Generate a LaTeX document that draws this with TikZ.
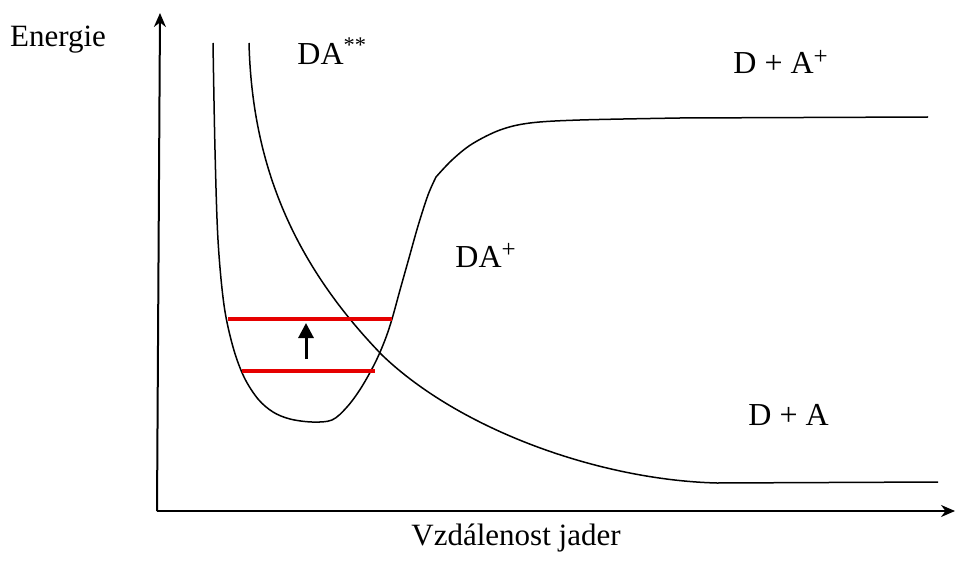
\documentclass[tikz,border=0pt]{standalone}
\usepackage{fontspec}
\setmainfont{Liberation Serif}
\usetikzlibrary{arrows.meta}
\definecolor{lvl}{RGB}{230,0,0}
\newcommand{\supplus}{\raisebox{0.62ex}{\fontsize{12.5}{12.5}\selectfont +}}
\tikzset{
  curve/.style={line width=0.75pt, line join=round},
  axis/.style={line width=1pt, -{Stealth[length=7pt,width=6pt]}},
  level/.style={line width=2pt, lvl},
  statelabel/.style={anchor=base west, inner sep=0pt, font=\fontsize{16}{18}\selectfont},
  axislabel/.style={anchor=base, inner sep=0pt, font=\fontsize{15.5}{18}\selectfont},
}
\begin{document}
\begin{tikzpicture}[x=0.5pt,y=-0.5pt]
\useasboundingbox (0,0) rectangle (956,561);
% axes
\coordinate (o) at (157,511);
\coordinate (ytop) at (160,13);
\coordinate (xend) at (955,511);
\draw[axis] (o) -- (ytop);
\draw[axis] (o) -- (xend);
\node[axislabel] (elabel) at (58,47) {Energie};
\node[axislabel] (xlabel) at (516,545) {Vzdálenost jader};
% potential well (DA+)
\draw[curve] plot[smooth, tension=0.55] coordinates {
  (213,43) (215,150) (218,240) (224,305) (233,347) (244,377) (258,399) (273,412) (290,419) (312,422) (332,420)
  (347,407) (361,388) (375,363) (385,340) (392,319) (400,290) (409,258) (418,226) (428,195) (436,177)}
  plot[smooth, tension=0.55] coordinates {(436,177) (452,160) (472,144) (500,130) (530,123) (580,120) (680,118)}
  -- (928,117);
% repulsive curve (DA**)
\draw[curve] (249,43) .. controls (252,160) and (290,260) .. (382,355)
  .. controls (460,430) and (600,480) .. (717,483) -- (938,482);
% vibrational levels
\coordinate (l1a) at (228,319);
\coordinate (l1b) at (392,319);
\coordinate (l0a) at (242,371);
\coordinate (l0b) at (375,371);
\draw[level] (l1a) -- (l1b);
\draw[level] (l0a) -- (l0b);
% excitation arrow
\coordinate (ea) at (306,359);
\coordinate (eb) at (306,323);
\draw[line width=1.5pt, -{Triangle[length=7.5pt,width=7.5pt]}] (ea) -- (eb);
% state labels
\node[statelabel] (dass) at (297,65) {DA\textsuperscript{**}};
\node[statelabel] (dpa) at (733,74) {D + A\supplus};
\node[statelabel] (dap) at (455,267) {DA\supplus};
\node[statelabel] (dplusa) at (748,425) {D + A};
\end{tikzpicture}
\end{document}
